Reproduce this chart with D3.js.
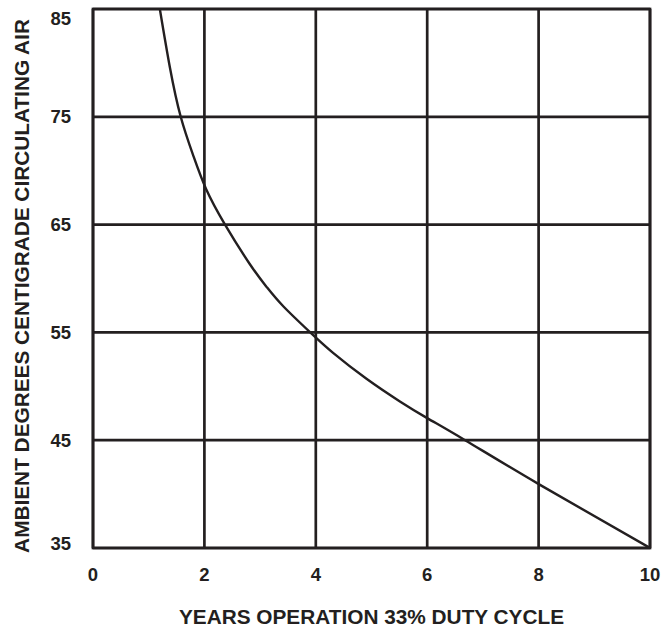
<!DOCTYPE html>
<html><head><meta charset="utf-8">
<script src="https://cdn.jsdelivr.net/npm/d3@7"></script>
<style>body{margin:0;background:#fff}svg{display:block}text{font-family:"Liberation Sans",Arial,Helvetica,sans-serif;font-weight:bold;fill:#231f20}</style>
</head><body><svg id="c" width="662" height="629"></svg>
<script>
const xTicks = [0, 2, 4, 6, 8, 10];
const yTicks = [35, 45, 55, 65, 75, 85];
const years = [1.2, 1.38, 1.575, 1.8, 2.03, 2.37, 2.82, 3.12, 3.42, 3.9, 4.31, 4.91, 5.51, 6.0, 6.68, 8.01, 10];
const ambient = [85, 79.6, 75, 71.4, 68.3, 65, 61.3, 59.2, 57.4, 55.0, 53.1, 50.7, 48.6, 47.05, 45, 40.9, 35];
const xTitle = "YEARS OPERATION 33% DUTY CYCLE";
const yTitle = "AMBIENT DEGREES CENTIGRADE CIRCULATING AIR";

const svg = d3.select("#c");
const L = 93, R = 650, T = 9, B = 548;
const x = d3.scaleLinear().domain([0, 10]).range([L, R]);
const y = d3.scaleLinear().domain([35, 85]).range([B, T]);
const ink = "#231f20";

// gridlines
svg.append("g").selectAll("line").data(xTicks).join("line")
  .attr("x1", d => x(d)).attr("x2", d => x(d)).attr("y1", T).attr("y2", B)
  .attr("stroke", ink).attr("stroke-width", 2.7);
svg.append("g").selectAll("line").data(yTicks).join("line")
  .attr("y1", d => y(d)).attr("y2", d => y(d)).attr("x1", L).attr("x2", R)
  .attr("stroke", ink).attr("stroke-width", 2.7);
svg.append("rect").attr("x", L).attr("y", T).attr("width", R - L).attr("height", B - T)
  .attr("fill", "none").attr("stroke", ink).attr("stroke-width", 2.7);

// curve
svg.append("clipPath").attr("id", "clip").append("rect")
  .attr("x", L).attr("y", T).attr("width", R - L).attr("height", B - T);
const pts = years.map((v, i) => [v, ambient[i]]);
svg.append("path").datum(pts)
  .attr("clip-path", "url(#clip)")
  .attr("d", d3.line().x(d => x(d[0])).y(d => y(d[1])).curve(d3.curveNatural))
  .attr("fill", "none").attr("stroke", ink).attr("stroke-width", 2.4);

// axes labels
svg.append("g").selectAll("text").data(yTicks).join("text")
  .attr("x", 71).attr("y", d => Math.min(Math.max(y(d), 18), 543))
  .attr("dy", "0.36em").attr("text-anchor", "end").attr("font-size", 18.5)
  .text(d => d);
svg.append("g").selectAll("text").data(xTicks).join("text")
  .attr("x", d => x(d)).attr("y", 574).attr("dy", "0.36em")
  .attr("text-anchor", "middle").attr("font-size", 18.5).text(d => d);

svg.append("text").attr("x", (L + R) / 2).attr("y", 617).attr("dy", "0.36em")
  .attr("text-anchor", "middle").attr("font-size", 20.8).text(xTitle);
svg.append("text").attr("transform", `translate(21,286) rotate(-90)`)
  .attr("dy", "0.36em").attr("text-anchor", "middle").attr("font-size", 20.8).text(yTitle);
</script></body></html>
